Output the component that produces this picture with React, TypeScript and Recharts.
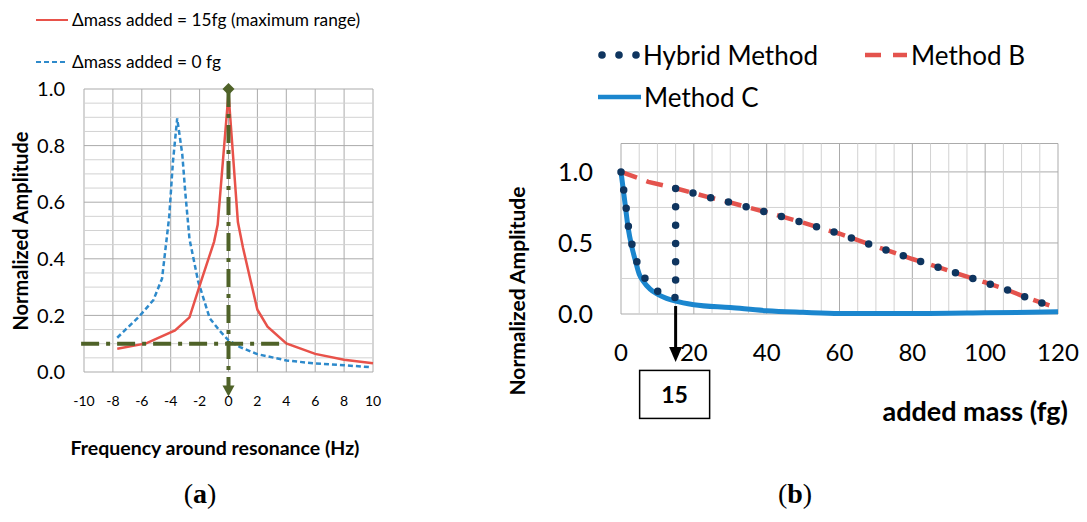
import React from 'react';
import { LineChart, Line, XAxis, YAxis, CartesianGrid, ReferenceLine, ReferenceDot, Legend } from 'recharts';

// ---------- Panel (a): resonance curves ----------
const freqAdded15 = [-7.7, -5.7, -3.7, -2.7, -1.9, -1, -0.75, 0, 0.65, 1, 1.45, 2, 2.7, 4, 6, 8, 10];
const ampAdded15 = [0.082, 0.101, 0.147, 0.193, 0.32, 0.46, 0.52, 0.985, 0.53, 0.44, 0.34, 0.22, 0.16, 0.101, 0.064, 0.043, 0.031];
const freqAdded0 = [-7.7, -6.15, -5.2, -4.6, -4.1, -3.85, -3.55, -3.2, -3.0, -2.7, -2.1, -1.3, -0.6, 0, 0.8, 2, 4, 6, 8, 9.8];
const ampAdded0 = [0.121, 0.198, 0.254, 0.33, 0.55, 0.74, 0.896, 0.77, 0.64, 0.47, 0.32, 0.19, 0.145, 0.112, 0.088, 0.063, 0.041, 0.03, 0.024, 0.017];
const freqTicks = [-10, -8, -6, -4, -2, 0, 2, 4, 6, 8, 10];
const ampTicksA = [0, 0.2, 0.4, 0.6, 0.8, 1.0];
const ampMinorA = [0.05, 0.1, 0.15, 0.25, 0.3, 0.35, 0.45, 0.5, 0.55, 0.65, 0.7, 0.75, 0.85, 0.9, 0.95];
const thresholdAmp = 0.1;
const thresholdFreqStart = -10.2;
const thresholdFreqEnd = 4;
const resonanceFreq = 0;
const resonanceTop = 1.0;
const resonanceBottom = -0.065;

// ---------- Panel (b): amplitude vs added mass ----------
const massC = [0, 1, 2, 3, 4, 5, 6, 8, 10, 12.5, 15, 20, 30, 40, 50, 60, 80, 100, 120];
const ampC = [1.0, 0.8, 0.6, 0.47, 0.37, 0.28, 0.235, 0.175, 0.14, 0.11, 0.09, 0.065, 0.045, 0.023, 0.012, 0.004, 0.003, 0.008, 0.015];
const massB = [0, 7.5, 15, 20, 25, 30, 35, 40, 45, 50, 55, 60, 65, 70, 75, 80, 85, 90, 95, 100, 105, 110, 115, 120];
const ampB = [1.0, 0.93, 0.885, 0.85, 0.816, 0.785, 0.75, 0.716, 0.68, 0.643, 0.603, 0.565, 0.52, 0.475, 0.432, 0.387, 0.347, 0.305, 0.263, 0.222, 0.18, 0.13, 0.083, 0.04];
const massHybrid = [0, 0.7, 1.4, 2, 2.9, 4.3, 6.6, 10, 15, 15, 20, 25, 30, 35, 40, 45, 50, 55, 60, 65, 70, 75, 80, 85, 90, 95, 100, 105, 110, 115, 120];
const ampHybrid = [1.0, 0.88, 0.75, 0.62, 0.5, 0.37, 0.25, 0.16, 0.115, 0.885, 0.85, 0.816, 0.785, 0.75, 0.716, 0.68, 0.643, 0.603, 0.565, 0.52, 0.475, 0.432, 0.387, 0.347, 0.305, 0.263, 0.222, 0.18, 0.13, 0.083, 0.04];
const massTicks = [0, 20, 40, 60, 80, 100, 120];
const massMinor = [5, 10, 15, 25, 30, 35, 45, 50, 55, 65, 70, 75, 85, 90, 95, 105, 110, 115];
const ampTicksB = [0, 0.5, 1.0];
const ampMinorB = [0.25, 0.75];
const maxRangeMass = 15;
const arrowTop = 0.056;
const arrowTip = -0.338;
const boxLevel = -0.566;

const zip = (xs: number[], ys: number[]) => xs.map((x, i) => ({ x, y: ys[i] }));
const dataAdded15 = zip(freqAdded15, ampAdded15);
const dataAdded0 = zip(freqAdded0, ampAdded0);
const dataC = zip(massC, ampC);
const dataB = zip(massB, ampB);
const dataHybrid = zip(massHybrid, ampHybrid);

const FONT = 'Lato, "Open Sans", sans-serif';
const RED_A = '#E8524A';
const BLUE_A = '#2E8ACB';
const GREEN = '#4F6228';
const RED_B = '#E4534D';
const BLUE_B = '#1B86CE';
const NAVY = '#0F355F';
const GRID_MAJOR = '#ABABAB';
const GRID_MINOR = '#D2D2D2';

const LegendA = () => (
  <div style={{ position: 'relative', width: 360, height: 70, fontFamily: FONT, fontSize: 17.3, color: '#000' }}>
    <svg style={{ position: 'absolute', left: 0, top: 6 }} width={34} height={10}>
      <line x1={0} y1={5} x2={32} y2={5} stroke={RED_A} strokeWidth={2} />
    </svg>
    <div style={{ position: 'absolute', left: 36, top: 0, lineHeight: '22px', whiteSpace: 'nowrap' }}>Δmass added = 15fg (maximum range)</div>
    <svg style={{ position: 'absolute', left: 0, top: 48 }} width={34} height={10}>
      <line x1={0} y1={5} x2={32} y2={5} stroke={BLUE_A} strokeWidth={2} strokeDasharray="5 3" />
    </svg>
    <div style={{ position: 'absolute', left: 36, top: 42, lineHeight: '22px', whiteSpace: 'nowrap' }}>Δmass added = 0 fg</div>
  </div>
);

const LegendB = () => (
  <div style={{ position: 'relative', width: 470, height: 84, fontFamily: FONT, fontSize: 26, color: '#000' }}>
    <svg style={{ position: 'absolute', left: 0, top: 16 }} width={44} height={10}>
      {[5, 22, 39].map((c) => <circle key={c} cx={c} cy={5} r={3.8} fill={NAVY} />)}
    </svg>
    <div style={{ position: 'absolute', left: 46, top: 0, lineHeight: '42px', whiteSpace: 'nowrap' }}>Hybrid Method</div>
    <svg style={{ position: 'absolute', left: 268, top: 16 }} width={44} height={10}>
      <line x1={0} y1={5} x2={42} y2={5} stroke={RED_B} strokeWidth={4.5} strokeDasharray="16 12" />
    </svg>
    <div style={{ position: 'absolute', left: 314, top: 0, lineHeight: '42px', whiteSpace: 'nowrap' }}>Method B</div>
    <svg style={{ position: 'absolute', left: 0, top: 58 }} width={46} height={10}>
      <line x1={1} y1={5} x2={44} y2={5} stroke={BLUE_B} strokeWidth={4.5} />
    </svg>
    <div style={{ position: 'absolute', left: 47, top: 42, lineHeight: '42px', whiteSpace: 'nowrap' }}>Method C</div>
  </div>
);

const Diamond = (p: any) => (
  <polygon points={`${p.cx},${p.cy - 6} ${p.cx + 6},${p.cy} ${p.cx},${p.cy + 6} ${p.cx - 6},${p.cy}`} fill={GREEN} />
);
const TriangleDown = (p: any) => (
  <polygon points={`${p.cx - 6},${p.cy - 5} ${p.cx + 6},${p.cy - 5} ${p.cx},${p.cy + 6}`} fill={GREEN} />
);

const ArrowShape = (p: any) => {
  const x = p.x1;
  const top = Math.min(p.y1, p.y2);
  const bottom = Math.max(p.y1, p.y2);
  return (
    <g>
      <line x1={x} y1={top} x2={x} y2={bottom - 12} stroke="#000" strokeWidth={3} />
      <polygon points={`${x - 6.5},${bottom - 15} ${x + 6.5},${bottom - 15} ${x},${bottom}`} fill="#000" />
    </g>
  );
};

const BoxShape = (p: any) => (
  <g>
    <rect x={p.cx - 36} y={p.cy - 24} width={70} height={48} fill="#fff" stroke="#000" strokeWidth={1.5} />
    <text x={p.cx - 1} y={p.cy} textAnchor="middle" dominantBaseline="central" fontFamily={FONT} fontWeight={700} fontSize={23} fill="#000">15</text>
  </g>
);

const fmt1 = (v: number) => v.toFixed(1);

export default function App() {
  return (
    <div style={{ position: 'absolute', left: 0, top: 0, width: 1087, height: 522, background: '#fff', overflow: 'hidden', fontFamily: FONT }}>
      {/* Panel (a) */}
      <div style={{ position: 'absolute', left: 0, top: 0 }}>
        <LineChart width={420} height={470} margin={{ top: 89, right: 47, bottom: 68, left: 24 }}>
          {ampMinorA.map((v) => (
            <ReferenceLine key={'ma' + v} y={v} stroke={GRID_MINOR} strokeWidth={1} />
          ))}
          <CartesianGrid stroke={GRID_MAJOR} />
          <XAxis type="number" dataKey="x" domain={[-10, 10]} ticks={freqTicks} interval={0} axisLine={false} tickLine={false} tickSize={0} tickMargin={24} height={30} tick={{ fontSize: 14, fill: '#000', fontFamily: FONT }} />
          <YAxis type="number" domain={[0, 1]} ticks={ampTicksA} interval={0} tickFormatter={fmt1} axisLine={false} tickLine={false} tickSize={0} tickMargin={19} width={60} tick={{ fontSize: 20, fill: '#000', fontFamily: FONT }} />
          <Legend layout="horizontal" verticalAlign="middle" align="center" wrapperStyle={{ top: 9, left: 36, width: 360 }} content={() => <LegendA />} />
          <Line data={dataAdded0} dataKey="y" type="linear" stroke={BLUE_A} strokeWidth={2.5} strokeDasharray="5 3" dot={false} isAnimationActive={false} />
          <Line data={dataAdded15} dataKey="y" type="linear" stroke={RED_A} strokeWidth={2.5} dot={false} isAnimationActive={false} />
          <ReferenceLine segment={[{ x: thresholdFreqStart, y: thresholdAmp }, { x: thresholdFreqEnd, y: thresholdAmp }]} ifOverflow="visible" stroke={GREEN} strokeWidth={4} strokeDasharray="18 7 4 7" />
          <ReferenceLine segment={[{ x: resonanceFreq, y: resonanceTop }, { x: resonanceFreq, y: resonanceBottom }]} ifOverflow="visible" stroke={GREEN} strokeWidth={4} strokeDasharray="18 7 4 7" />
          <ReferenceDot x={resonanceFreq} y={resonanceTop} ifOverflow="visible" shape={Diamond} />
          <ReferenceDot x={resonanceFreq} y={resonanceBottom} ifOverflow="visible" shape={TriangleDown} />
        </LineChart>
      </div>
      <div style={{ position: 'absolute', left: 20, top: 231, transform: 'translate(-50%,-50%) rotate(-90deg)', whiteSpace: 'nowrap', fontWeight: 700, fontSize: 20 }}>Normalized Amplitude</div>
      <div style={{ position: 'absolute', left: 215, top: 447, transform: 'translate(-50%,-50%)', whiteSpace: 'nowrap', fontWeight: 700, fontSize: 19.5 }}>Frequency around resonance (Hz)</div>

      {/* Panel (b) */}
      <div style={{ position: 'absolute', left: 480, top: 0 }}>
        <LineChart width={600} height={470} margin={{ top: 143.5, right: 22, bottom: 116, left: 81 }}>
          {ampMinorB.map((v) => (
            <ReferenceLine key={'mby' + v} y={v} stroke={GRID_MINOR} strokeWidth={1} />
          ))}
          {massMinor.map((v) => (
            <ReferenceLine key={'mbx' + v} x={v} stroke={GRID_MINOR} strokeWidth={1} />
          ))}
          <CartesianGrid stroke={GRID_MAJOR} />
          <XAxis type="number" dataKey="x" domain={[0, 120]} ticks={massTicks} interval={0} axisLine={false} tickLine={false} tickSize={0} tickMargin={30} height={40} tick={{ fontSize: 24, fill: '#000', fontFamily: FONT }} />
          <YAxis type="number" domain={[0, 1.2]} ticks={ampTicksB} interval={0} tickFormatter={fmt1} axisLine={false} tickLine={false} tickSize={0} tickMargin={28} width={60} tick={{ fontSize: 25, fill: '#000', fontFamily: FONT }} />
          <Legend layout="horizontal" verticalAlign="middle" align="center" wrapperStyle={{ top: 34, left: 117, width: 470 }} content={() => <LegendB />} />
          <Line data={dataC} dataKey="y" type="monotone" stroke={BLUE_B} strokeWidth={5} dot={false} isAnimationActive={false} />
          <Line data={dataB} dataKey="y" type="linear" stroke={RED_B} strokeWidth={4.5} strokeDasharray="17 10" dot={false} isAnimationActive={false} />
          <Line data={dataHybrid} dataKey="y" type="linear" stroke={NAVY} strokeWidth={7.5} strokeDasharray="0 18.3" strokeLinecap="round" dot={false} isAnimationActive={false} />
          <ReferenceLine segment={[{ x: maxRangeMass, y: arrowTop }, { x: maxRangeMass, y: arrowTip }]} ifOverflow="visible" shape={ArrowShape} />
          <ReferenceDot x={maxRangeMass} y={boxLevel} ifOverflow="visible" shape={BoxShape} />
        </LineChart>
      </div>
      <div style={{ position: 'absolute', left: 516, top: 291, transform: 'translate(-50%,-50%) rotate(-90deg)', whiteSpace: 'nowrap', fontWeight: 700, fontSize: 21 }}>Normalized Amplitude</div>
      <div style={{ position: 'absolute', right: 19, top: 410, transform: 'translateY(-50%)', whiteSpace: 'nowrap', fontWeight: 700, fontSize: 27 }}>added mass (fg)</div>

      {/* Captions */}
      <div style={{ position: 'absolute', left: 200, top: 494, transform: 'translate(-50%,-50%)', fontFamily: '"Liberation Serif", "Times New Roman", serif', fontSize: 28 }}>(<b>a</b>)</div>
      <div style={{ position: 'absolute', left: 795, top: 494, transform: 'translate(-50%,-50%)', fontFamily: '"Liberation Serif", "Times New Roman", serif', fontSize: 28 }}>(<b>b</b>)</div>
    </div>
  );
}
